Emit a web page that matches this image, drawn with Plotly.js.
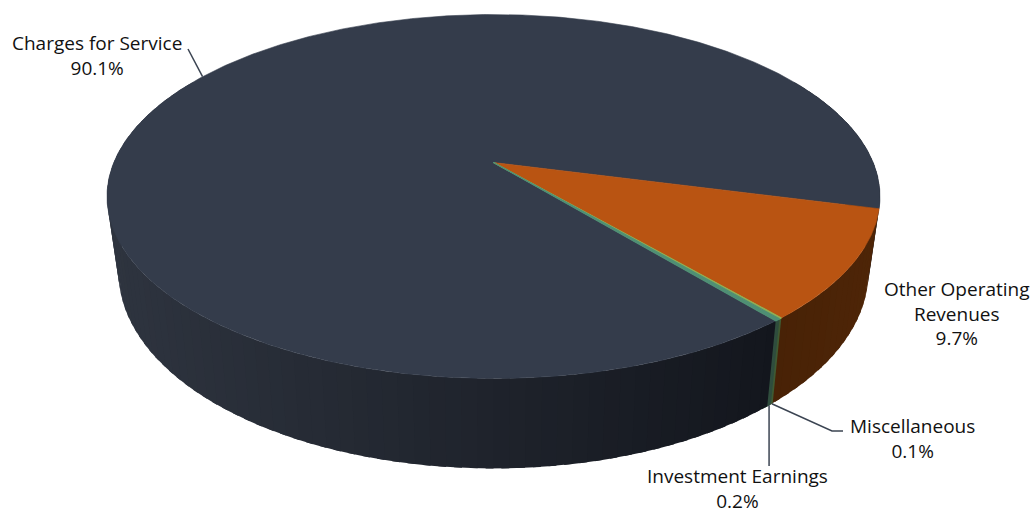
<!DOCTYPE html>
<html>
<head>
<meta charset="utf-8">
<script src="https://cdn.plot.ly/plotly-3.0.1.min.js"></script>
<style>html,body{margin:0;padding:0;background:#fff;}#chart{width:1032px;height:515px;}</style>
</head>
<body>
<div id="chart"></div>
<script>
// ---- data ----
const categories = ["Charges for Service", "Other Operating Revenues", "Miscellaneous", "Investment Earnings"];
const values = [90.1, 9.7, 0.1, 0.2];
const labelsText = ["Charges for Service<br>90.1%", "Other Operating<br>Revenues<br>9.7%", "Miscellaneous<br>0.1%", "Investment Earnings<br>0.2%"];

// ---- styling ----
const topColors = ["#343c4b", "#b95412", "#8fae55", "#4f8f74"];
const startAngle = 50.5;           // degrees, clockwise on screen from 3 o'clock
const geo = {cx: 493.5, cy: 162.5, A: 379.7, B: 175.6, k: 0.1868, H: 73.2, shrink: 0.97};

function proj(phiDeg, bottom) {
  const p = phiDeg * Math.PI / 180;
  const u = Math.cos(p), v = Math.sin(p);
  const den = 1 - geo.k * v;
  const s = bottom ? geo.shrink : 1;
  return [geo.cx + s * geo.A * u / den, geo.cy + geo.B * v / den + (bottom ? geo.H / den : 0)];
}

const total = values.reduce((a, b) => a + b, 0);
const slices = [];
let a0 = startAngle;
values.forEach((val, i) => {
  const span = val / total * 360;
  slices.push({i: i, a0: a0, a1: a0 + span});
  a0 += span;
});
function sliceAt(phi) {
  let p = ((phi - startAngle) % 360 + 360) % 360 + startAngle;
  for (const s of slices) if (p >= s.a0 && p <= s.a1) return s.i;
  return 0;
}
function lerp(c1, c2, t) {
  t = Math.max(0, Math.min(1, t));
  return "rgb(" + c1.map((c, j) => Math.round(c + (c2[j] - c) * t)).join(",") + ")";
}
function sideColor(i, x) {
  const t = (x - 110) / (780 - 110);
  if (i === 0) return lerp([46, 52, 63], [19, 22, 29], t);
  if (i === 1) return lerp([72, 34, 6], [78, 37, 7], (x - 780) / 100);
  if (i === 2) return "#3f5a33";
  return "#2f4d3d";
}

const traces = [];
// side walls: overlapping strips so no seams show
const step = 2;
const breaks = [];
slices.forEach(s => [s.a0, s.a1].forEach(b => { for (let m = -1; m <= 1; m++) breaks.push(b + m * 360); }));
let phis = [];
for (let p = -30; p <= 210; p += step) phis.push(p);
breaks.forEach(b => { if (b > -30 && b < 210) phis.push(b); });
phis = Array.from(new Set(phis.map(p => +p.toFixed(4)))).sort((a, b) => a - b);
for (let j = 0; j < phis.length - 1; j++) {
  const p0 = phis[j], p1 = phis[j + 1];
  const idx = sliceAt((p0 + p1) / 2);
  const pe = Math.min(p1 + 1.0, 210);
  const pts = [];
  const n = Math.max(1, Math.ceil((pe - p0) / 0.5));
  for (let q = 0; q <= n; q++) pts.push(proj(p0 + (pe - p0) * q / n, false));
  for (let q = n; q >= 0; q--) pts.push(proj(p0 + (pe - p0) * q / n, true));
  pts.push(pts[0]);
  const t0 = proj(p0, false), t1 = proj(p1, false);
  const col = sideColor(idx, (t0[0] + t1[0]) / 2);
  traces.push({type: "scatter", mode: "lines", x: pts.map(p => p[0]), y: pts.map(p => p[1]),
    fill: "toself", fillcolor: col, line: {width: 0}, hoverinfo: "skip", showlegend: false});
}
// top faces
slices.forEach(s => {
  const xs = [geo.cx], ys = [geo.cy];
  const n = Math.max(2, Math.ceil((s.a1 - s.a0) / 0.5));
  for (let j = 0; j <= n; j++) {
    const pt = proj(s.a0 + (s.a1 - s.a0) * j / n, false);
    xs.push(pt[0]); ys.push(pt[1]);
  }
  xs.push(geo.cx); ys.push(geo.cy);
  const thin = s.a1 - s.a0 < 2;
  traces.push({type: "scatter", mode: "lines", x: xs, y: ys, fill: "toself", fillcolor: topColors[s.i],
    line: {color: topColors[s.i], width: thin ? 1.2 : 0.6}, hoverinfo: "skip", showlegend: false});
});

// leader lines
const lineCol = "#3b4452";
const mid = s => (s.a0 + s.a1) / 2;
const cMid = proj(mid(slices[0]), false);
const miscPt = proj(mid(slices[2]), true);
const invPt = proj(mid(slices[3]), true);
const leaders = [
  {x: [cMid[0], 188], y: [cMid[1], 49]},
  {x: [miscPt[0], 832, 843], y: [miscPt[1], 431, 431]},
  {x: [invPt[0], invPt[0]], y: [invPt[1], 466]}
];
leaders.forEach(l => traces.push({type: "scatter", mode: "lines", x: l.x, y: l.y,
  line: {color: lineCol, width: 1.5}, hoverinfo: "skip", showlegend: false}));

const labelPos = [[97, 55], [957, 313], [912, 438], [737, 488]];
const annotations = labelsText.map((t, i) => ({
  x: labelPos[i][0], y: labelPos[i][1], xref: "x", yref: "y", text: t, showarrow: false,
  xanchor: "center", yanchor: "middle", align: "center", borderpad: 0,
  font: {family: "Open Sans, Liberation Sans, Arial, sans-serif", size: 19, color: "#111111"}
}));

const layout = {
  width: 1032, height: 515,
  margin: {l: 0, r: 0, t: 0, b: 0},
  paper_bgcolor: "#ffffff", plot_bgcolor: "#ffffff",
  xaxis: {range: [0, 1032], visible: false, fixedrange: true},
  yaxis: {range: [515, 0], visible: false, fixedrange: true},
  showlegend: false,
  annotations: annotations
};
Plotly.newPlot("chart", traces, layout, {staticPlot: true, displayModeBar: false});
</script>
</body>
</html>
